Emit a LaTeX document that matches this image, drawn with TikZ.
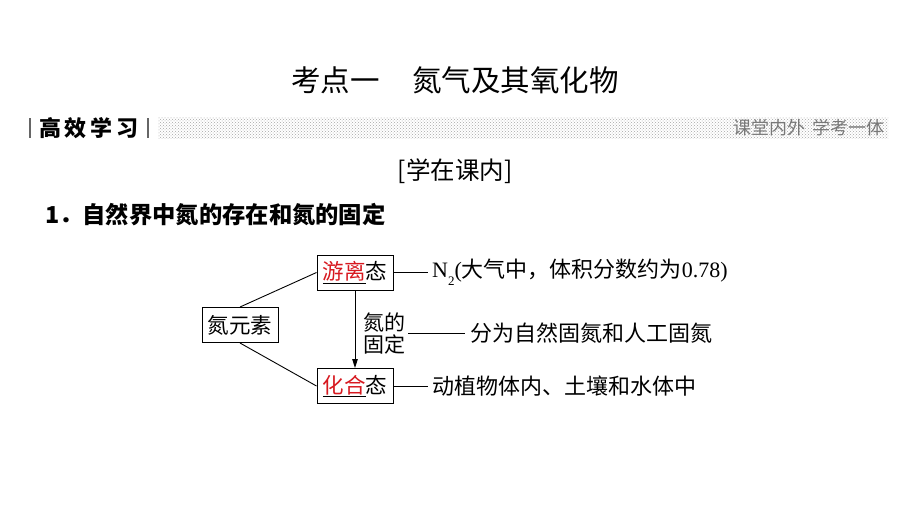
\documentclass[tikz,border=0pt]{standalone}
\usepackage{fontspec}
\setmainfont{Liberation Serif}
\newfontfamily\cjk{Noto Sans CJK SC}
\usetikzlibrary{patterns,arrows.meta}
\definecolor{myred}{RGB}{215,25,32}
\definecolor{hdrgray}{RGB}{120,120,120}
\newcommand{\fsz}[1]{\fontsize{#1}{#1}\selectfont}
\tikzset{
  statebox/.style={draw, line width=1pt, minimum width=76pt, minimum height=35pt, inner sep=0pt, font=\cjk\fsz{21.5}},
  lbl/.style={inner sep=0pt, font=\cjk\fsz{22}},
  conn/.style={line width=0.9pt},
}
\begin{document}
\begin{tikzpicture}[x=1pt,y=-1pt]
\useasboundingbox[fill=white] (0,0) rectangle (920,517);
% title
\node[inner sep=0pt, font=\cjk\fsz{29.5}] (title) at (455,80) {考点一\hspace{1.1em}氮气及其氧化物};
% header bar
\fill[pattern=crosshatch dots, pattern color=gray!70] (158,117) rectangle (888,138);
\coordinate (lb1) at (30,118); \coordinate (lb2) at (30,138);
\coordinate (rb1) at (148,118); \coordinate (rb2) at (148,138);
\draw[line width=1.2pt, gray!80!black] (lb1) -- (lb2);
\draw[line width=1.6pt, gray!80!black] (rb1) -- (rb2);
\node[inner sep=0pt, font=\cjk\bfseries\fsz{22}] (hdr) at (89,128) {高\hspace{4pt}效\hspace{4pt}学\hspace{4pt}习};
\node[inner sep=0pt, anchor=east, text=hdrgray, font=\cjk\fsz{18}] (hdrr) at (885,128) {课堂内外\hspace{7pt}学考一体};
% section
\node[inner sep=0pt, font=\cjk\fsz{24.5}] (sec) at (455,171) {[学在课内]};
\node[inner sep=0pt, anchor=west, font=\cjk\bfseries\fsz{23.3}] (item) at (45,215) {1．自然界中氮的存在和氮的固定};
% diagram
\node[statebox] (n) at (240,325) {氮元素};
\node[statebox] (free) at (355,272.5) {\underline{{\color{myred}游离}}态};
\node[statebox] (comb) at (355,386) {\underline{{\color{myred}化合}}态};
\node[lbl, align=left, font=\cjk\fsz{21}, text depth=0pt] (fix) at (384,333) {氮的\\[1pt]固定};
\draw[conn] (n.north) -- (free.west);
\draw[conn] (n.south) -- (comb.west);
\draw[conn, -{Triangle[length=9pt,width=5.5pt]}] (free.south) -- (comb.north);
% right side
\coordinate (fe) at (428,272.5);
\node[lbl, anchor=west] (ft) at (432,272.5) {{\rmfamily N\raisebox{-0.35em}{\fsz{13}2}(}大气中，体积分数约为{\rmfamily 0.78)}};
\draw[conn] (free.east) -- (fe);
\coordinate (xe) at (465,333);
\node[lbl, anchor=west] (xt) at (470,333) {分为自然固氮和人工固氮};
\draw[conn] ([xshift=3pt]fix.east) -- (xe);
\coordinate (ce) at (428,386);
\node[lbl, anchor=west] (ct) at (432,386) {动植物体内、土壤和水体中};
\draw[conn] (comb.east) -- (ce);
\end{tikzpicture}
\end{document}
